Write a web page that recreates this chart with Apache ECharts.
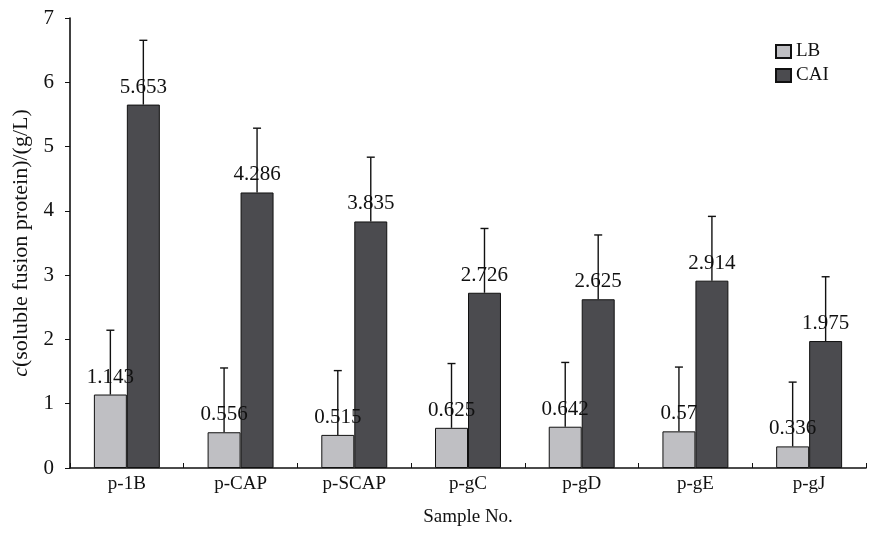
<!DOCTYPE html>
<html>
<head>
<meta charset="utf-8">
<script src="https://cdn.jsdelivr.net/npm/echarts@6/dist/echarts.min.js"></script>
<style>
html,body{margin:0;padding:0;background:#ffffff;}
#chart{width:869px;height:534px;}
</style>
</head>
<body>
<div id="chart"></div>
<script>
var categories = ['p-1B', 'p-CAP', 'p-SCAP', 'p-gC', 'p-gD', 'p-gE', 'p-gJ'];
var seriesNames = ['LB', 'CAI'];
var lbValues = [1.143, 0.556, 0.515, 0.625, 0.642, 0.57, 0.336];
var caiValues = [5.653, 4.286, 3.835, 2.726, 2.625, 2.914, 1.975];
var lbErrors = [1.0, 1.0, 1.0, 1.0, 1.0, 1.0, 1.0];
var caiErrors = [1.0, 1.0, 1.0, 1.0, 1.0, 1.0, 1.0];
var yTicks = [0, 1, 2, 3, 4, 5, 6, 7];

var FONT = '"Liberation Serif", "Times New Roman", serif';
var BAR_RATIO = 0.29;

function errorSeries(name, values, errors, side) {
  return {
    type: 'custom',
    name: name + ' err',
    z: 5,
    silent: true,
    data: values.map(function (v, i) { return [i, v, v + errors[i]]; }),
    renderItem: function (params, api) {
      var bw = api.size([1, 0])[0] * BAR_RATIO;
      var base = api.coord([api.value(0), api.value(1)]);
      var top = api.coord([api.value(0), api.value(2)]);
      var x = base[0] + side * bw / 2;
      var style = { stroke: '#111', lineWidth: 1.4 };
      return {
        type: 'group',
        children: [
          { type: 'line', shape: { x1: x, y1: base[1], x2: x, y2: top[1] }, style: style },
          { type: 'line', shape: { x1: x - 4, y1: top[1], x2: x + 4, y2: top[1] }, style: style }
        ]
      };
    }
  };
}

var chart = echarts.init(document.getElementById('chart'));
chart.setOption({
  backgroundColor: '#ffffff',
  animation: false,
  grid: { left: 70, right: 3, top: 18, bottom: 66 },
  legend: {
    data: seriesNames.map(function (n) { return { name: n, icon: 'rect' }; }),
    orient: 'vertical',
    left: 770,
    top: 37,
    itemWidth: 15,
    itemHeight: 13,
    itemGap: 5,
    textStyle: { fontFamily: FONT, fontSize: 19, color: '#111' }
  },
  xAxis: {
    type: 'category',
    data: categories,
    name: 'Sample No.',
    nameLocation: 'middle',
    nameGap: 40,
    nameTextStyle: { fontFamily: FONT, fontSize: 19, color: '#111' },
    axisLine: { lineStyle: { color: '#111', width: 1.6 } },
    axisTick: { show: true, inside: true, length: 5, lineStyle: { color: '#111' } },
    axisLabel: { fontFamily: FONT, fontSize: 19, color: '#111', margin: 7 }
  },
  yAxis: {
    type: 'value',
    min: 0,
    max: 7,
    interval: 1,
    name: '{i|c}(soluble fusion protein)/(g/L)',
    nameLocation: 'middle',
    nameGap: 37,
    nameTextStyle: {
      fontFamily: FONT, fontSize: 22, color: '#111',
      rich: { i: { fontFamily: FONT, fontSize: 22, fontStyle: 'italic', color: '#111' } }
    },
    splitLine: { show: false },
    axisLine: { show: true, lineStyle: { color: '#111', width: 1.6 } },
    axisTick: { show: true, length: 5, lineStyle: { color: '#111' } },
    axisLabel: {
      fontFamily: FONT, fontSize: 21, color: '#111', margin: 16,
      formatter: function (v) { return yTicks.indexOf(v) >= 0 ? String(v) : ''; }
    }
  },
  series: [
    {
      name: seriesNames[0],
      type: 'bar',
      data: lbValues,
      barWidth: (BAR_RATIO * 100) + '%',
      barGap: '0%',
      itemStyle: { color: '#bfbfc3', borderColor: '#111', borderWidth: 1 },
      label: {
        show: true, position: 'top', distance: 7,
        fontFamily: FONT, fontSize: 21, color: '#111',
        formatter: function (p) { return String(p.value); }
      }
    },
    {
      name: seriesNames[1],
      type: 'bar',
      data: caiValues,
      barWidth: (BAR_RATIO * 100) + '%',
      barGap: '0%',
      itemStyle: { color: '#4b4b4f', borderColor: '#111', borderWidth: 1 },
      label: {
        show: true, position: 'top', distance: 7,
        fontFamily: FONT, fontSize: 21, color: '#111',
        formatter: function (p) { return String(p.value); }
      }
    },
    errorSeries('LB', lbValues, lbErrors, -1),
    errorSeries('CAI', caiValues, caiErrors, 1)
  ]
});
</script>
</body>
</html>
